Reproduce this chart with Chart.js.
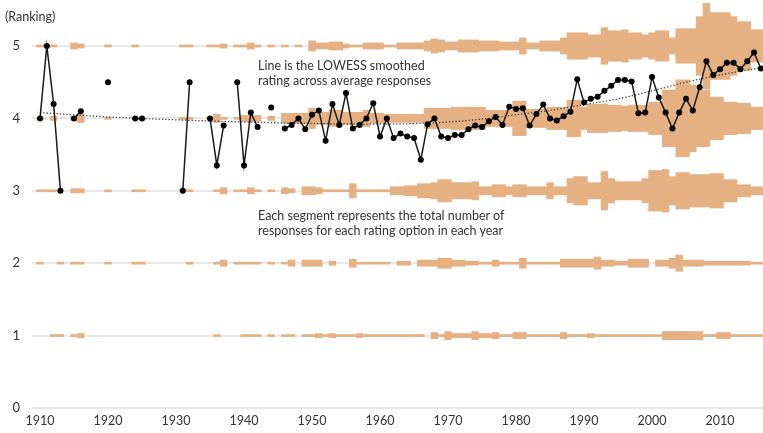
<!DOCTYPE html>
<html>
<head>
<meta charset="utf-8">
<title>Rating by year</title>
<script src="https://cdn.jsdelivr.net/npm/chart.js@4.4.0/dist/chart.umd.min.js"></script>
<style>
  html, body { margin: 0; padding: 0; background: #fff; }
  #wrap { position: relative; width: 763px; height: 433px; font-family: Lato, "Open Sans", sans-serif; color: #333; }
  #wrap canvas { display: block; }
  .note { position: absolute; font-size: 12.5px; line-height: 15px; white-space: nowrap; }
</style>
</head>
<body>
<div id="wrap">
  <canvas id="ratingChart" width="763" height="433"></canvas>
  <div class="note" style="left:5px; top:9px;">(Ranking)</div>
  <div class="note" style="left:258px; top:58px;">Line is the LOWESS smoothed<br>rating across average responses</div>
  <div class="note" style="left:258px; top:208px;">Each segment represents the total number of<br>responses for each rating option in each year</div>
</div>
<script>
const FIRST_YEAR = 1910;
const LAST_YEAR = 2016;
const years = Array.from({ length: LAST_YEAR - FIRST_YEAR + 1 }, (_, i) => FIRST_YEAR + i);

const ratingTicks = [0, 1, 2, 3, 4, 5];
const yearTicks = [1910, 1920, 1930, 1940, 1950, 1960, 1970, 1980, 1990, 2000, 2010];

// responses per rating option, one entry per year from 1910 (rows of ten years)
const responses5 = [
    1, 1, 1, 0, 0, 3, 2, 0, 0, 0,
    1, 0, 0, 0, 1, 0, 0, 0, 0, 0,
    0, 1, 1, 0, 0, 1, 1, 2, 0, 1,
    1, 3, 1, 0, 1, 0, 1, 0, 1, 0,
    5, 3, 3, 4, 4, 2, 1, 1, 3, 3,
    3, 1, 1, 3, 3, 3, 3, 5, 7, 6,
    4, 4, 6, 6, 6, 5, 5, 5, 4, 4,
    4, 8, 3, 3, 5, 5, 5, 8, 13, 13,
    13, 11, 11, 18, 15, 15, 16, 13, 13, 11,
    13, 15, 15, 8, 17, 17, 17, 29, 42, 33,
    33, 33, 29, 24, 24, 16, 16
];
const responses4 = [
    1, 0, 2, 0, 0, 2, 4, 0, 0, 0,
    1, 0, 0, 0, 1, 1, 0, 0, 0, 0,
    0, 1, 1, 0, 0, 1, 4, 1, 0, 1,
    3, 3, 3, 0, 2, 0, 5, 5, 5, 5,
    10, 6, 6, 8, 8, 6, 6, 6, 8, 5,
    5, 4, 4, 4, 4, 4, 4, 10, 10, 10,
    10, 11, 11, 11, 11, 11, 8, 8, 8, 8,
    17, 17, 9, 9, 9, 11, 11, 11, 18, 18,
    11, 14, 14, 14, 13, 13, 12, 13, 13, 13,
    16, 16, 28, 28, 38, 38, 33, 28, 28, 21,
    21, 16, 16, 15, 15, 11, 11
];
const responses3 = [
    1, 1, 1, 0, 0, 2, 2, 0, 0, 0,
    1, 0, 0, 0, 1, 1, 0, 0, 0, 0,
    0, 1, 1, 0, 0, 0, 1, 3, 0, 1,
    1, 3, 1, 0, 1, 0, 3, 2, 0, 4,
    4, 3, 1, 1, 1, 1, 7, 1, 1, 1,
    1, 1, 4, 4, 5, 5, 7, 7, 8, 11,
    11, 8, 8, 8, 9, 4, 4, 6, 6, 4,
    6, 6, 4, 4, 4, 8, 4, 4, 12, 14,
    14, 8, 8, 19, 12, 9, 9, 9, 9, 12,
    20, 20, 21, 14, 18, 18, 16, 16, 16, 17,
    17, 11, 11, 6, 6, 4, 4
];
const responses2 = [
    1, 0, 0, 1, 0, 1, 1, 0, 0, 0,
    1, 0, 0, 0, 1, 1, 0, 0, 0, 0,
    0, 0, 1, 0, 0, 0, 1, 3, 0, 1,
    1, 1, 1, 0, 1, 0, 1, 3, 0, 3,
    3, 3, 0, 2, 0, 0, 4, 1, 1, 1,
    1, 1, 0, 2, 2, 0, 3, 3, 3, 5,
    5, 3, 3, 2, 2, 1, 1, 3, 1, 1,
    1, 5, 1, 1, 1, 1, 1, 4, 4, 4,
    4, 4, 6, 3, 3, 2, 2, 4, 4, 4,
    0, 3, 3, 5, 8, 3, 3, 3, 2, 2,
    2, 2, 2, 2, 2, 1, 1
];
const responses1 = [
    0, 0, 1, 1, 0, 1, 2, 0, 0, 0,
    0, 0, 0, 0, 0, 0, 0, 0, 0, 0,
    0, 0, 0, 0, 0, 0, 1, 0, 0, 0,
    1, 1, 1, 0, 1, 0, 1, 1, 0, 1,
    1, 2, 1, 2, 1, 1, 1, 2, 1, 1,
    1, 1, 1, 1, 1, 1, 1, 0, 3, 1,
    4, 2, 2, 2, 4, 2, 2, 3, 1, 1,
    3, 3, 1, 1, 1, 1, 1, 3, 1, 1,
    1, 2, 1, 1, 1, 1, 1, 1, 1, 1,
    1, 1, 4, 4, 4, 4, 4, 4, 1, 1,
    3, 3, 1, 1, 1, 1, 1
];

// average rating of the year's responses (null = no responses)
const avgRating = [
    4.0, 5.0, 4.2, 3.0, null, 4.0, 4.1, null, null, null,
    4.5, null, null, null, 4.0, 4.0, null, null, null, null,
    null, 3.0, 4.5, null, null, 4.0, 3.35, 3.9, null, 4.5,
    3.35, 4.08, 3.88, null, 4.15, null, 3.86, 3.91, 4.0, 3.85,
    4.05, 4.11, 3.69, 4.2, 3.91, 4.35, 3.86, 3.91, 4.0, 4.21,
    3.75, 4.0, 3.73, 3.79, 3.75, 3.73, 3.43, 3.92, 4.0, 3.75,
    3.73, 3.77, 3.77, 3.85, 3.9, 3.88, 3.96, 4.02, 3.91, 4.16,
    4.13, 4.14, 3.9, 4.06, 4.19, 4.0, 3.97, 4.03, 4.09, 4.54,
    4.22, 4.27, 4.3, 4.38, 4.45, 4.53, 4.53, 4.51, 4.07, 4.08,
    4.57, 4.29, 4.08, 3.86, 4.08, 4.27, 4.11, 4.43, 4.79, 4.6,
    4.68, 4.77, 4.77, 4.68, 4.79, 4.91, 4.69
];

// LOWESS smoothed rating
const lowessYears = [1910, 1920, 1930, 1940, 1950, 1960, 1970, 1975, 1980, 1985, 1990, 1995, 2000, 2005, 2010, 2016];
const lowessRating = [4.08, 4.02, 3.98, 3.95, 3.93, 3.92, 3.95, 3.99, 4.05, 4.11, 4.19, 4.27, 4.38, 4.5, 4.6, 4.7];

// band height (in rating units) taken by one response
const BAND_PER_RESPONSE = 0.028;
const BAND_COLOR = '#E5B082';
const TEXT_COLOR = '#333';

const bandsFor = (rating, counts) => ({
    type: 'bar',
    order: 3,
    grouped: false,
    barPercentage: 1,
    categoryPercentage: 1,
    backgroundColor: BAND_COLOR,
    borderWidth: 0,
    data: years
        .map((yr, i) => {
            const half = counts[i] * BAND_PER_RESPONSE / 2;
            return { x: yr, y: [rating - half, rating + half] };
        })
        .filter((d, i) => counts[i] > 0)
});

const ctx = document.getElementById('ratingChart').getContext('2d');
const ratingChart = new Chart(ctx, {
    type: 'bar',
    data: {
        datasets: [
            bandsFor(1, responses1),
            bandsFor(2, responses2),
            bandsFor(3, responses3),
            bandsFor(4, responses4),
            bandsFor(5, responses5),
            {
                type: 'line',
                order: 2,
                data: lowessYears.map((yr, i) => ({ x: yr, y: lowessRating[i] })),
                borderColor: '#444',
                borderWidth: 1.3,
                borderDash: [1.3, 2],
                cubicInterpolationMode: 'monotone',
                pointRadius: 0,
                fill: false
            },
            {
                type: 'line',
                order: 1,
                data: years.map((yr, i) => ({ x: yr, y: avgRating[i] })),
                borderColor: '#1a1a1a',
                borderWidth: 1.5,
                pointRadius: 3,
                pointBackgroundColor: '#000',
                pointBorderWidth: 0,
                spanGaps: false,
                fill: false
            }
        ]
    },
    options: {
        responsive: false,
        animation: false,
        layout: { padding: 0, autoPadding: false },
        plugins: {
            legend: { display: false },
            title: { display: false },
            tooltip: { enabled: false }
        },
        scales: {
            x: {
                type: 'linear',
                min: 1908.82,
                max: 2016.32,
                offset: false,
                grid: { display: false, offset: false, drawTicks: false },
                border: { display: false },
                afterBuildTicks: (axis) => { axis.ticks = yearTicks.map(v => ({ value: v })); },
                afterFit: (axis) => {
                    axis.height = 25;
                    axis.paddingLeft = 0;
                    axis.paddingRight = 0;
                },
                ticks: {
                    padding: 5,
                    maxRotation: 0,
                    autoSkip: false,
                    color: TEXT_COLOR,
                    font: { family: 'Lato', size: 12.5 },
                    callback: (v) => String(v)
                }
            },
            y: {
                min: 0,
                max: 5.635,
                grid: { color: '#e8e8e8', lineWidth: 2, drawTicks: false },
                border: { display: false },
                afterBuildTicks: (axis) => { axis.ticks = ratingTicks.map(v => ({ value: v })); },
                afterFit: (axis) => {
                    axis.width = 32;
                    axis.paddingTop = 0;
                    axis.paddingBottom = 0;
                },
                ticks: {
                    padding: 12,
                    color: TEXT_COLOR,
                    font: { family: 'Lato', size: 13 }
                }
            }
        }
    }
});
</script>
</body>
</html>
